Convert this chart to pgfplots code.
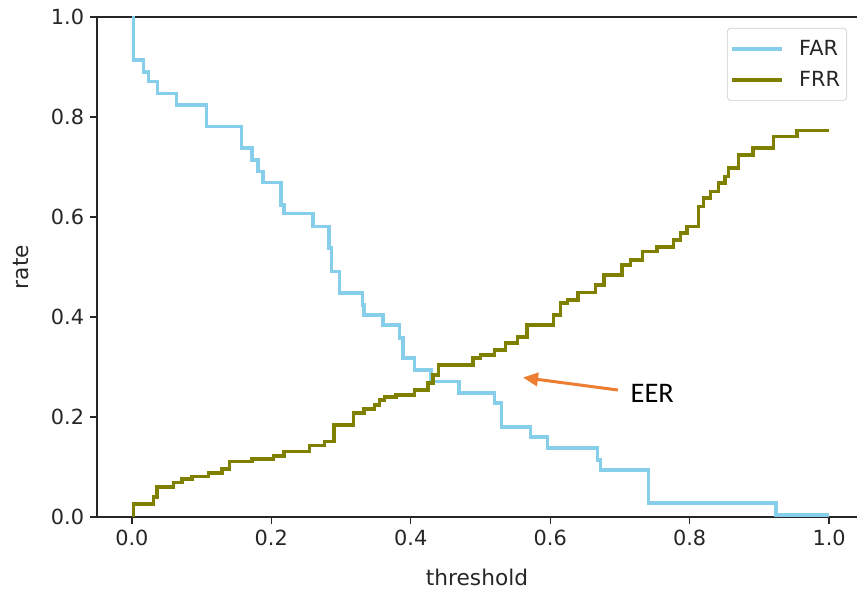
\documentclass[border=0pt]{standalone}
\usepackage{fontspec}
\setmainfont{DejaVu Sans}
\newfontfamily\eerfont{Carlito}
\usepackage{pgfplots}
\pgfplotsset{compat=1.18}
\usetikzlibrary{calc,arrows.meta}

\definecolor{farblue}{HTML}{87CEEB}
\definecolor{frrolive}{HTML}{808000}
\definecolor{eerorange}{HTML}{ED7D31}
\definecolor{txt}{HTML}{262626}

\begin{document}
\begin{tikzpicture}
\begin{axis}[
    scale only axis,
    width=456pt, height=300pt,
    xmin=-0.05, xmax=1.040,
    ymin=0, ymax=1,
    axis x line*=box,
    axis y line*=left,
    axis line style={line width=0.8pt, black!85},
    xtick={0,0.2,0.4,0.6,0.8,1.0},
    ytick={0,0.2,0.4,0.6,0.8,1.0},
    xtick pos=left, ytick pos=left,
    tick align=outside,
    major tick length=4.2pt,
    tick style={line width=0.8pt, black!85},
    /pgf/number format/assume math mode=true,
    /pgf/number format/.cd, fixed, fixed zerofill, precision=1, /pgfplots/.cd,
    tick label style={font=\fontsize{12.5}{14}\selectfont, text=txt},
    label style={font=\fontsize{13}{15}\selectfont, text=txt},
    xlabel={threshold},
    ylabel={rate},
    xlabel style={yshift=-7pt},
    ylabel style={yshift=6.5pt},
    legend style={at={(rel axis cs:0.987,0.978)}, anchor=north east,
        font=\fontsize{12.5}{14}\selectfont, text=txt,
        draw=black!20, rounded corners=2pt, fill=white,
        inner xsep=2pt, inner ysep=5pt, row sep=4pt},
    legend cell align=left,
    legend image code/.code={\draw[#1, line width=2.1pt] (0pt,0pt) -- (30pt,0pt); \path (37pt,0pt);},
]
\coordinate (bl) at (rel axis cs:0,0);
\coordinate (tr) at (rel axis cs:1,1);

\addplot[const plot, color=farblue, line width=2.1pt] coordinates {
(0,1.0) (0.002,0.914) (0.017,0.890) (0.024,0.871) (0.037,0.847)
(0.064,0.824) (0.107,0.781) (0.157,0.738) (0.172,0.714) (0.181,0.691)
(0.188,0.669) (0.214,0.624) (0.218,0.607) (0.260,0.581) (0.283,0.538)
(0.286,0.491) (0.298,0.448) (0.331,0.424) (0.333,0.404) (0.360,0.384)
(0.384,0.358) (0.389,0.318) (0.405,0.294) (0.429,0.271) (0.469,0.248)
(0.520,0.228) (0.530,0.180) (0.572,0.160) (0.596,0.138) (0.668,0.114)
(0.672,0.094) (0.741,0.028) (0.924,0.004) (1.0,0.004)
};
\addlegendentry{FAR}

\addplot[const plot, color=frrolive, line width=2.1pt] coordinates {
(0,0) (0.002,0.026) (0.031,0.040) (0.036,0.060) (0.060,0.069)
(0.072,0.076) (0.086,0.081) (0.110,0.088) (0.129,0.096) (0.140,0.111)
(0.172,0.116) (0.203,0.122) (0.218,0.131) (0.255,0.143) (0.276,0.151)
(0.290,0.184) (0.318,0.208) (0.333,0.216) (0.348,0.224) (0.355,0.234)
(0.362,0.240) (0.379,0.244) (0.405,0.254) (0.425,0.268) (0.432,0.284)
(0.440,0.304) (0.489,0.318) (0.500,0.324) (0.520,0.334) (0.536,0.348)
(0.553,0.360) (0.567,0.384) (0.605,0.404) (0.615,0.428) (0.625,0.434)
(0.640,0.449) (0.665,0.464) (0.677,0.484) (0.703,0.504) (0.715,0.514)
(0.732,0.531) (0.753,0.540) (0.777,0.554) (0.787,0.568) (0.796,0.581)
(0.813,0.621) (0.820,0.638) (0.830,0.651) (0.841,0.668) (0.851,0.681)
(0.856,0.698) (0.870,0.724) (0.891,0.738) (0.920,0.761) (0.954,0.773)
(1.0,0.773)
};
\addlegendentry{FRR}

\draw[eerorange, line width=1.8pt, -{Triangle[length=9pt,width=8pt]}]
    (axis cs:0.697,0.254) -- (axis cs:0.561,0.279);
\node[anchor=west, font=\eerfont\fontsize{17}{20}\selectfont, inner sep=0pt]
    at (axis cs:0.715,0.248) {EER};
\end{axis}
\pgfresetboundingbox
\path[use as bounding box] ($(bl)+(-58.2pt,-45.6pt)$) rectangle ($(tr)+(0pt,10.2pt)$);
\end{tikzpicture}
\end{document}
